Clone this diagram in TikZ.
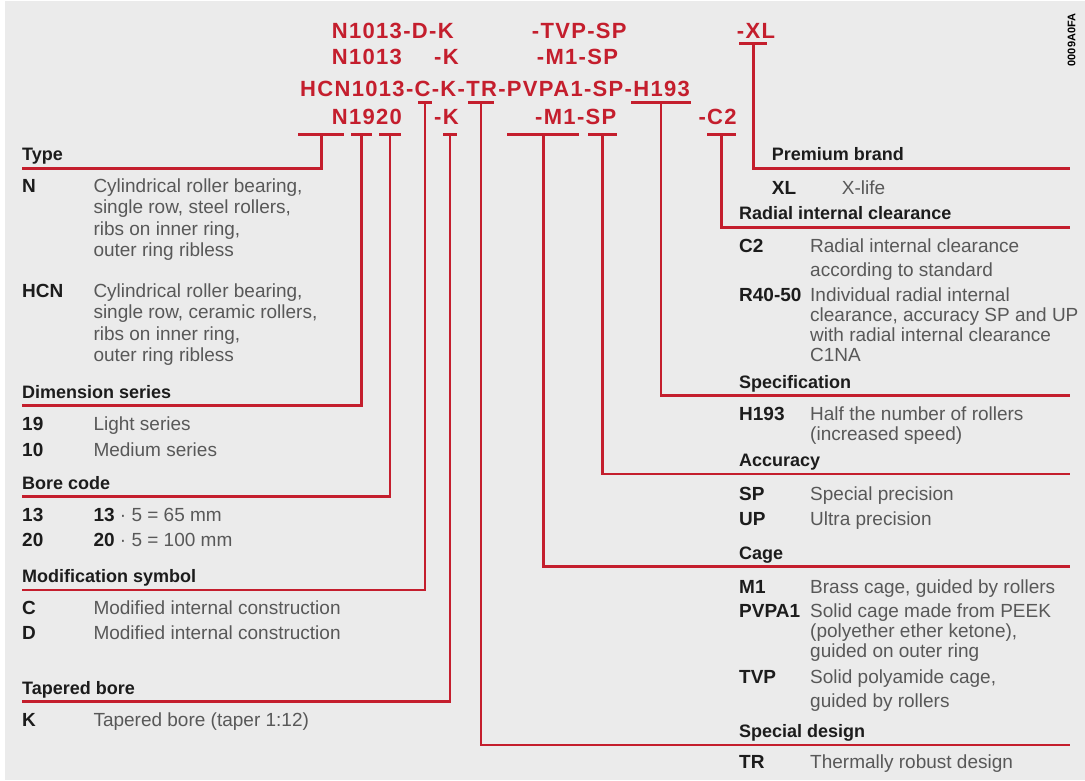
\documentclass[tikz,border=0pt]{standalone}
\usepackage{fontspec}
\setmainfont{Liberation Sans}
\newfontfamily\codefont[LetterSpace=6]{Liberation Sans}
\definecolor{codeRed}{RGB}{196,30,45}
\definecolor{bgGray}{RGB}{235,235,235}
\definecolor{keyGray}{RGB}{28,28,28}
\definecolor{descGray}{RGB}{88,88,88}
\tikzstyle{codetext} = [anchor=base west, inner sep=0pt, text=codeRed, font={\fontsize{22}{24}\selectfont\codefont\bfseries}]
\tikzstyle{heading} = [anchor=base west, inner sep=0pt, text=keyGray, font={\fontsize{18}{20}\selectfont\bfseries}]
\tikzstyle{keytext} = [anchor=base west, inner sep=0pt, text=keyGray, font={\fontsize{19}{21.5}\selectfont\bfseries}]
\tikzstyle{desc} = [anchor=base west, inner sep=0pt, text=descGray, font={\fontsize{19}{21.5}\selectfont}]
\tikzstyle{codebar} = [rectangle, fill=codeRed, inner sep=0pt, minimum height=2.7pt]
\tikzstyle{leader} = [draw=codeRed, line width=2.7pt]
\newcommand{\desclines}[2][21.5]{{\fontsize{19}{#1}\selectfont\begin{tabular}[t]{@{}l@{}}#2\end{tabular}}}

\begin{document}
\begin{tikzpicture}[x=1pt, y=-1pt]
            \useasboundingbox (0,0) rectangle (1085,781);
            \fill [white] (0,0) rectangle (1085,781);
            \fill [bgGray] (5,1) rectangle (1085,780);
            \node (docId) [rotate=90, inner sep=0pt, font={\fontsize{11}{13}\selectfont\bfseries}] at (1071.5,40) {0009A0FA};

            % Designation examples
            \node (rowA1) [codetext] at (331.7,38.5) {N1013-D-K};
            \node (rowA2) [codetext] at (531.7,38.5) {-TVP-SP};
            \node (rowA3) [codetext] at (736.7,38.5) {-XL};
            \node (rowB1) [codetext] at (331.7,65) {N1013};
            \node (rowB2) [codetext] at (434,65) {-K};
            \node (rowB3) [codetext] at (536.7,65) {-M1-SP};
            \node (rowC1) [codetext] at (300,96.5) {HCN1013-C-K-TR-PVPA1-SP-H193};
            \node (rowD1) [codetext] at (331.7,125) {N1920};
            \node (rowD2) [codetext] at (434,125) {-K};
            \node (rowD3) [codetext] at (535,125) {-M1-SP};
            \node (rowD4) [codetext] at (698.3,125) {-C2};

            % Bars under the code parts
            \node (typeBar) [codebar, minimum width=46pt] at (321.4,134.5) {};
            \node (dimBar) [codebar, minimum width=20.7pt] at (361.3,134.5) {};
            \node (boreBar) [codebar, minimum width=21.4pt] at (390,134.5) {};
            \node (modBar) [codebar, minimum width=13.4pt] at (425,102.5) {};
            \node (taperBar) [codebar, minimum width=13.2pt] at (450,134.5) {};
            \node (specialBar) [codebar, minimum width=26pt] at (481,102.5) {};
            \node (cageBar) [codebar, minimum width=71.5pt] at (543.2,134.5) {};
            \node (accBar) [codebar, minimum width=28.7pt] at (602.3,134.5) {};
            \node (specBar) [codebar, minimum width=60pt] at (661,102.8) {};
            \node (clearBar) [codebar, minimum width=29.3pt] at (721.3,134.8) {};
            \node (brandBar) [codebar, minimum width=28.3pt] at (753.2,43.3) {};

            % Type
            \node (typeHead) [heading] at (22,160.7) {Type};
            \node (typeN) [keytext] at (22,192.4) {N};
            \node (typeNdesc) [desc] at (93.3,192.4) {\desclines{Cylindrical roller bearing,\\single row, steel rollers,\\ribs on inner ring,\\outer ring ribless}};
            \node (typeHCN) [keytext] at (22,297.4) {HCN};
            \node (typeHCNdesc) [desc] at (93.3,297.4) {\desclines{Cylindrical roller bearing,\\single row, ceramic rollers,\\ribs on inner ring,\\outer ring ribless}};

            % Dimension series
            \node (dimHead) [heading] at (22,398.3) {Dimension series};
            \node (dim19) [keytext] at (22,430.7) {19};
            \node (dim19desc) [desc] at (93.3,430.7) {Light series};
            \node (dim10) [keytext] at (22,456) {10};
            \node (dim10desc) [desc] at (93.3,456) {Medium series};

            % Bore code
            \node (boreHead) [heading] at (22,489.2) {Bore code};
            \node (bore13) [keytext] at (22,521) {13};
            \node (bore13desc) [desc] at (93.3,521) {\textcolor{keyGray}{\textbf{13}} · 5 = 65 mm};
            \node (bore20) [keytext] at (22,546.7) {20};
            \node (bore20desc) [desc] at (93.3,546.7) {\textcolor{keyGray}{\textbf{20}} · 5 = 100 mm};

            % Modification symbol
            \node (modHead) [heading] at (22,582.5) {Modification symbol};
            \node (modC) [keytext] at (22,614) {C};
            \node (modCdesc) [desc] at (93.3,614) {Modified internal construction};
            \node (modD) [keytext] at (22,639) {D};
            \node (modDdesc) [desc] at (93.3,639) {Modified internal construction};

            % Tapered bore
            \node (taperHead) [heading] at (22,694.2) {Tapered bore};
            \node (taperK) [keytext] at (22,726) {K};
            \node (taperKdesc) [desc] at (93.3,726) {Tapered bore (taper 1:12)};

            % Premium brand
            \node (brandHead) [heading] at (771.7,160.8) {Premium brand};
            \node (brandXL) [keytext] at (771.7,194) {XL};
            \node (brandXLdesc) [desc] at (841.7,194) {X-life};

            % Radial internal clearance
            \node (clearHead) [heading] at (739,219.8) {Radial internal clearance};
            \node (clearC2) [keytext] at (739,252.7) {C2};
            \node (clearC2desc) [desc] at (810,252.7) {\desclines[24]{Radial internal clearance\\according to standard}};
            \node (clearR) [keytext] at (739,301) {R40-50};
            \node (clearRdesc) [desc] at (810,301) {\desclines[20]{Individual radial internal\\clearance, accuracy SP and UP\\with radial internal clearance\\C1NA}};

            % Specification
            \node (specHead) [heading] at (739,388.2) {Specification};
            \node (specH) [keytext] at (739,420.7) {H193};
            \node (specHdesc) [desc] at (810,420.7) {\desclines[20]{Half the number of rollers\\(increased speed)}};

            % Accuracy
            \node (accHead) [heading] at (739,466.5) {Accuracy};
            \node (accSP) [keytext] at (739,500) {SP};
            \node (accSPdesc) [desc] at (810,500) {Special precision};
            \node (accUP) [keytext] at (739,525.7) {UP};
            \node (accUPdesc) [desc] at (810,525.7) {Ultra precision};

            % Cage
            \node (cageHead) [heading] at (739,559.2) {Cage};
            \node (cageM1) [keytext] at (739,593.4) {M1};
            \node (cageM1desc) [desc] at (810,593.4) {Brass cage, guided by rollers};
            \node (cagePVPA) [keytext] at (739,617.4) {PVPA1};
            \node (cagePVPAdesc) [desc] at (810,617.4) {\desclines[20]{Solid cage made from PEEK\\(polyether ether ketone),\\guided on outer ring}};
            \node (cageTVP) [keytext] at (739,683.4) {TVP};
            \node (cageTVPdesc) [desc] at (810,683.4) {\desclines[24]{Solid polyamide cage,\\guided by rollers}};

            % Special design
            \node (specialHead) [heading] at (739,737.5) {Special design};
            \node (specialTR) [keytext] at (739,768.4) {TR};
            \node (specialTRdesc) [desc] at (810,768.4) {Thermally robust design};

            % Leaders to the headings
            \coordinate (typeEnd) at (21.7,168.3);
            \coordinate (dimEnd) at (21.7,405.7);
            \coordinate (boreEnd) at (21.7,496.7);
            \coordinate (modEnd) at (21.7,590);
            \coordinate (taperEnd) at (21.7,701.7);
            \coordinate (brandEnd) at (1070,168.3);
            \coordinate (clearEnd) at (1070,227.5);
            \coordinate (specEnd) at (1070,395.7);
            \coordinate (accEnd) at (1070,474);
            \coordinate (cageEnd) at (1070,566.7);
            \coordinate (specialEnd) at (1070,745);

            \draw [leader] (typeBar) |- (typeEnd);
            \draw [leader] (dimBar) |- (dimEnd);
            \draw [leader] (boreBar) |- (boreEnd);
            \draw [leader] (modBar) |- (modEnd);
            \draw [leader] (taperBar) |- (taperEnd);
            \draw [leader] (specialBar) |- (specialEnd);
            \draw [leader] (cageBar) |- (cageEnd);
            \draw [leader] (accBar) |- (accEnd);
            \draw [leader] (specBar) |- (specEnd);
            \draw [leader] (clearBar) |- (clearEnd);
            \draw [leader] (brandBar) |- (brandEnd);
        \end{tikzpicture}
\end{document}
